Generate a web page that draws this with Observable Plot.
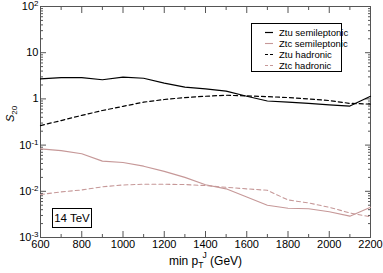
<!DOCTYPE html>
<html><head><meta charset="utf-8">
<script src="https://cdn.jsdelivr.net/npm/d3@7"></script>
<script src="https://cdn.jsdelivr.net/npm/@observablehq/plot@0.6"></script>
<style>
body{margin:0;background:#fff;font-family:"Liberation Sans",Arial,sans-serif;}
#wrap{position:relative;width:383px;height:273px;}
.box{position:absolute;background:#fff;border:1px solid #000;box-sizing:border-box;}
</style></head><body>
<div id="wrap"></div>
<script>
const pt = [600,700,800,900,1000,1100,1200,1300,1400,1500,1600,1700,1800,1900,2000,2100,2200];
const ztuSemi = [2.7,2.9,2.9,2.6,2.95,2.8,2.2,1.8,1.65,1.47,1.14,0.9,0.85,0.8,0.74,0.7,1.14];
const ztcSemi = [0.083,0.076,0.065,0.045,0.042,0.035,0.027,0.020,0.0139,0.0113,0.0075,0.005,0.0043,0.0042,0.0036,0.0029,0.0045];
const ztuHad = [0.265,0.34,0.44,0.56,0.69,0.85,0.97,1.07,1.14,1.2,1.16,1.12,1.07,1.0,0.92,0.8,0.77];
const ztcHad = [0.0085,0.0097,0.0107,0.0125,0.0137,0.0142,0.0142,0.014,0.0133,0.0122,0.0113,0.0105,0.0065,0.0056,0.0045,0.0034,0.0028];
const seriesNames = ["Ztu semileptonic","Ztc semileptonic","Ztu hadronic","Ztc hadronic"];
const xTicks = [600,800,1000,1200,1400,1600,1800,2000,2200];
const xMinor = [700,900,1100,1300,1500,1700,1900,2100];
const yTicks = [1e-3,1e-2,1e-1,1,10,100];
const yTickLabels = ["10^-3","10^-2","10^-1","1","10","10^2"];
const energyLabel = "14 TeV";

const pink = "#c69898";
const styles = [
  {stroke:"#000", dash:null, w:1.2},
  {stroke:pink, dash:null, w:1.1},
  {stroke:"#000", dash:"4,3", w:1.2},
  {stroke:pink, dash:"4,3", w:1.1}
];
const allSeries = [ztuSemi, ztcSemi, ztuHad, ztcHad];
const tables = allSeries.map(vals => pt.map((p,i)=>({x:p,y:vals[i]})));

const yMinor = [];
for (let e=-3;e<2;e++) for (let m=2;m<=9;m++) yMinor.push(m*Math.pow(10,e));

const axisCol = "#555";
const svg = Plot.plot({
  width:383, height:273,
  marginLeft:40, marginRight:13, marginTop:6, marginBottom:36,
  style:{fontFamily:"'Liberation Sans',Arial,sans-serif", fontSize:"11px", color:"#000", background:"#fff", overflow:"visible"},
  x:{domain:[600,2200]},
  y:{type:"log", domain:[1e-3,1e2]},
  marks:[
    Plot.frame({stroke:axisCol, strokeWidth:1}),
    Plot.axisX(xTicks,{anchor:"bottom", tickSize:-6, tickPadding:9, stroke:axisCol, tickFormat:d=>String(d), label:null, fill:"#000"}),
    Plot.axisX(xMinor,{anchor:"bottom", tickSize:-3, stroke:axisCol, text:null, label:null}),
    Plot.axisX(xTicks,{anchor:"top", tickSize:-6, stroke:axisCol, text:null, label:null}),
    Plot.axisX(xMinor,{anchor:"top", tickSize:-3, stroke:axisCol, text:null, label:null}),
    Plot.axisY(yTicks,{anchor:"left", tickSize:-6, tickPadding:8, stroke:axisCol, tickFormat:(d)=>yTickLabels[yTicks.indexOf(d)], label:null, fill:"#000"}),
    Plot.axisY(yMinor,{anchor:"left", tickSize:-3, stroke:axisCol, text:null, label:null}),
    Plot.axisY(yTicks,{anchor:"right", tickSize:-6, stroke:axisCol, text:null, label:null}),
    Plot.axisY(yMinor,{anchor:"right", tickSize:-3, stroke:axisCol, text:null, label:null}),
    ...tables.map((t,i)=>Plot.line(t,{x:"x", y:"y", stroke:styles[i].stroke, strokeWidth:styles[i].w, strokeDasharray:styles[i].dash})),
    Plot.text(["min p_T^J (GeV)"],{frameAnchor:"bottom", dy:27, text:d=>d, fontSize:12}),
    Plot.text(["S_20"],{frameAnchor:"left", dx:-30, rotate:-90, text:d=>d, fontSize:11})
  ]
});

const NS = "http://www.w3.org/2000/svg";
function addSpan(t, txt, attrs){const ts=document.createElementNS(NS,"tspan");ts.textContent=txt;for(const k in attrs)ts.setAttribute(k,attrs[k]);t.appendChild(ts);}
svg.querySelectorAll("text").forEach(t=>{
  const s = t.textContent;
  if (s === "min p_T^J (GeV)") {
    t.textContent = "";
    addSpan(t,"min p",{});
    addSpan(t,"T",{dy:"3","font-size":"8.5"});
    addSpan(t,"J",{dy:"-10","font-size":"8.5", dx:"-1"});
    addSpan(t," (GeV)",{dy:"7"});
  } else if (s === "S_20") {
    t.textContent = "";
    addSpan(t,"S",{"font-style":"italic"});
    addSpan(t,"20",{dy:"3","font-size":"8"});
  } else if (s.startsWith("10^")) {
    const [b,e] = s.split("^");
    t.textContent = "";
    addSpan(t,b,{});
    addSpan(t,e,{dy:"-4","font-size":"8"});
  }
});

const wrap = document.getElementById("wrap");
wrap.appendChild(svg);

const leg = document.createElement("div");
leg.className="box";
Object.assign(leg.style,{left:"251px",top:"23px",width:"91px",height:"49px",padding:"3px 0 0 0"});
seriesNames.forEach((n,i)=>{
  const row=document.createElement("div");
  Object.assign(row.style,{display:"flex",alignItems:"center",height:"11px",fontSize:"9.5px",lineHeight:"11px",whiteSpace:"nowrap"});
  const st=styles[i];
  row.innerHTML=`<svg width="27" height="11" style="flex:none"><line x1="13" x2="21" y1="5.5" y2="5.5" stroke="${st.stroke}" stroke-width="${st.w}" ${st.dash?`stroke-dasharray="3,2"`:""}/></svg><span>${n}</span>`;
  leg.appendChild(row);
});
wrap.appendChild(leg);

const eb = document.createElement("div");
eb.className="box";
Object.assign(eb.style,{left:"52px",top:"208px",width:"40px",height:"20px",fontSize:"11.5px",lineHeight:"18px",textAlign:"center",whiteSpace:"nowrap"});
eb.textContent = energyLabel;
wrap.appendChild(eb);
</script>
</body></html>
